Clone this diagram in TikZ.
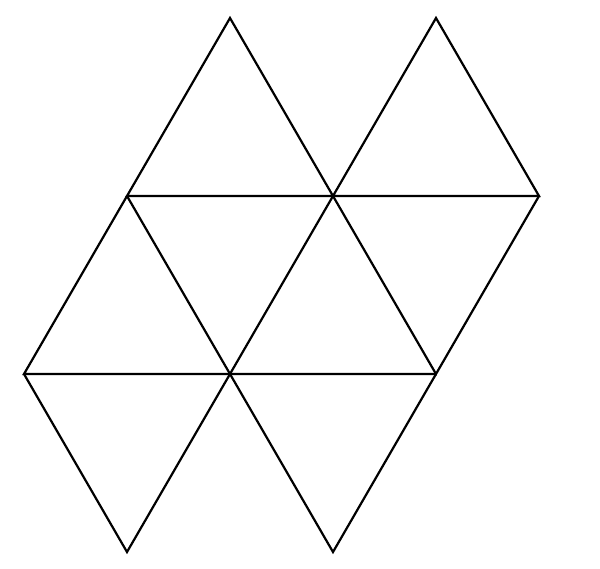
\documentclass[tikz,border=0pt]{standalone}
\begin{document}
\begin{tikzpicture}[x=0.5pt,y=-0.5pt,edge/.style={draw=black,line width=1.1pt,line join=miter}]
\useasboundingbox (0,0) rectangle (600,568);
\coordinate (t1) at (230,18);
\coordinate (t2) at (436,18);
\coordinate (a) at (127,196);
\coordinate (b) at (333,196);
\coordinate (c) at (539,196);
\coordinate (d) at (24,374);
\coordinate (e) at (230,374);
\coordinate (f) at (436,374);
\coordinate (g) at (127,552);
\coordinate (h) at (333,552);
\draw[edge] (a) -- (t1) -- (b) -- (t2) -- (c) -- cycle;
\draw[edge] (a) -- (e) -- (b) -- (f) -- (c);
\draw[edge] (a) -- (d) -- (f);
\draw[edge] (d) -- (g) -- (e) -- (h) -- (f);
\end{tikzpicture}
\end{document}
